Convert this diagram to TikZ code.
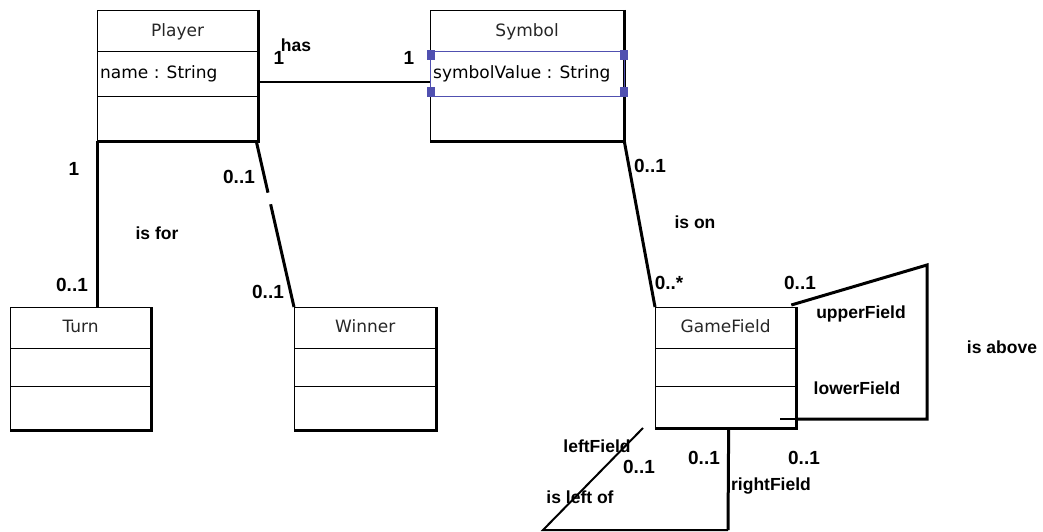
\documentclass[tikz,border=0pt]{standalone}
\usepackage{fontspec}
\setmainfont{DejaVu Sans}
\newfontfamily\lblfont{Liberation Sans}
\usetikzlibrary{calc}
\definecolor{selblue}{HTML}{5050B0}
\tikzset{
  box/.style={draw, line width=1.3pt, inner sep=0pt, anchor=north west},
  cname/.style={font=\fontsize{17}{19}\selectfont, inner sep=0pt, text=black!85},
  attrtxt/.style={font=\fontsize{17}{19}\selectfont, inner sep=0pt, anchor=west},
  assoc/.style={line width=3pt},
  thinassoc/.style={line width=2pt},
  lbl/.style={font=\lblfont\bfseries\fontsize{17.5}{19}\selectfont, inner sep=0pt},
  mult/.style={font=\lblfont\bfseries\fontsize{19}{20}\selectfont, inner sep=0pt},
  handle/.style={fill=selblue, draw=none},
}
% name, x, y, w, h, title, divider1, divider2, title offset
\newcommand\umlcls[9]{%
  \node[box, minimum width=#4, minimum height=#5] (#1) at (#2,#3) {};
  \draw[line width=1pt] ($(#1.north west)+(0,#7)$) -- ($(#1.north east)+(0,#7)$);
  \draw[line width=1pt] ($(#1.north west)+(0,#8)$) -- ($(#1.north east)+(0,#8)$);
  \draw[line width=3pt] (#1.north east) -- (#1.south east) -- (#1.south west);
  \node[cname] (#1-title) at ($(#1.north)+(0,#9)$) {#6};
}
\begin{document}
\begin{tikzpicture}[x=1pt,y=-1pt]
\useasboundingbox (0,0) rectangle (1043,532);

% classes
\umlcls{player}{97}{10}{160}{130}{Player}{42}{87}{22}
\umlcls{symbol}{430}{10}{193}{130}{Symbol}{42}{87}{22}
\umlcls{turn}{10}{307}{140}{122}{Turn}{41}{79}{19}
\umlcls{winner}{294}{307}{141}{122}{Winner}{41}{79}{19}
\umlcls{gamefield}{655}{307}{140}{120}{GameField}{41}{79}{19}

\node[attrtxt] (pattr) at ($(player.north west)+(3,64)$) {name : String};
\node[attrtxt] (sattr) at ($(symbol.north west)+(3,64)$) {symbolValue : String};

% selection on the Symbol attribute
\draw[selblue, line width=1pt] ($(symbol.north west)+(0,42)$) rectangle ($(symbol.north east)+(0,87)$);
\fill[handle] ($(symbol.north west)+(-3,40)$) rectangle ++(8,10);
\fill[handle] ($(symbol.north west)+(-3,77)$) rectangle ++(8,10);
\fill[handle] ($(symbol.north east)+(-4,40)$) rectangle ++(8,10);
\fill[handle] ($(symbol.north east)+(-4,77)$) rectangle ++(8,10);

% has
\draw[thinassoc] ($(player.north east)+(0,72)$) -- ($(symbol.north west)+(0,72)$);
\node[mult] (m-has1) at (279,58) {1};
\node[lbl] (l-has) at (296,45) {has};
\node[mult] (m-has2) at (409,58) {1};

% is for
\draw[assoc] (player.south west) -- (player.south west |- turn.north);
\node[mult] (m-for1) at (74,169) {1};
\node[lbl] (l-for) at (157,233) {is for};
\node[mult] (m-for2) at (72,285) {0..1};

% winner
\coordinate (wstart) at ($(player.south east)+(-2,0)$);
\draw[assoc] (wstart) -- ($(wstart)!0.31!(winner.north west)$);
\draw[assoc] ($(wstart)!0.38!(winner.north west)$) -- (winner.north west);
\node[mult] (m-w1) at (239,177) {0..1};
\node[mult] (m-w2) at (268,292) {0..1};

% is on
\draw[assoc] (symbol.south east) -- (gamefield.north west);
\node[mult] (m-on1) at (650,166) {0..1};
\node[lbl] (l-on) at (695,222) {is on};
\node[mult] (m-on2) at (669,283) {0..*};

% is above
\coordinate (ab1) at (927,265);
\coordinate (ab2) at (927,419);
\coordinate (abend) at (780,419);
\draw[assoc, line join=miter] ($(gamefield.north east)+(-5,-2)$) -- (ab1) -- (ab2) -- (gamefield.east |- ab2);
\draw[line width=1.2pt] (gamefield.east |- ab2) -- (abend);
\node[mult] (m-ab1) at (800,283) {0..1};
\node[lbl] (l-up) at (861,314) {upperField};
\node[lbl] (l-low) at (857,388) {lowerField};
\node[lbl] (l-ab) at (1002,347) {is above};
\node[mult] (m-ab2) at (804,458) {0..1};

% is left of
\coordinate (lf1) at (728,530);
\coordinate (lf2) at (543,530);
\coordinate (lf3) at (643,428);
\draw[assoc] ($(gamefield.south)+(3,0)$) -- (lf1);
\draw[thinassoc] (lf1) -- (lf2) -- (lf3);
\node[lbl] (l-left) at (597,446) {leftField};
\node[mult] (m-lf1) at (639,467) {0..1};
\node[mult] (m-lf2) at (704,458) {0..1};
\node[lbl] (l-right) at (771,486) {rightField};
\node[lbl] (l-lo) at (580,497) {is left of};
\end{tikzpicture}
\end{document}
